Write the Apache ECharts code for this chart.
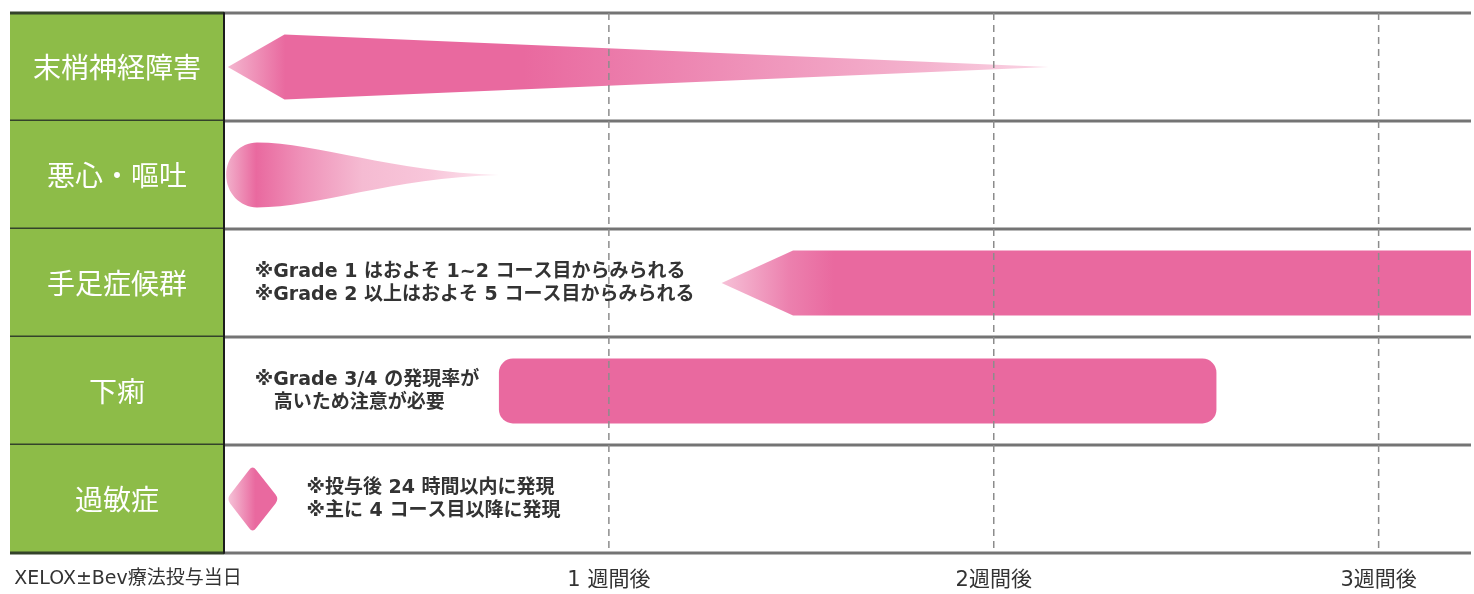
<!DOCTYPE html>
<html>
<head>
<meta charset="utf-8">
<script src="https://cdn.jsdelivr.net/npm/echarts@6/dist/echarts.min.js"></script>
<style>
  html, body { margin: 0; padding: 0; background: #fff; }
  #main { width: 1474px; height: 594px; }
</style>
</head>
<body>
<div id="main"></div>
<script>
var symptoms = ['末梢神経障害', '悪心・嘔吐', '手足症候群', '下痢', '過敏症'];
var weekTicks = [0, 7, 14, 21];
var tickLabels = ['XELOX±Bev療法投与当日', '1 週間後', '2週間後', '3週間後'];

// [行, 出現日, 最大になる日, 消える日]
var neuropathy = [0, 0.07, 1.1, 15.0];
var nausea = [1, 0.04, 0.6, 5.0];
var handFoot = [2, 9.05, 10.35, 22.68];
var diarrhea = [3, 5.0, 18.05];
var hypersens = [4, 0.05, 0.52, 1.0];

// 注釈 [行, 開始日]
var notePos = [[2, 0.56], [3, 0.56], [4, 1.5]];
var noteTexts = [
    '※Grade 1 はおよそ 1~2 コース目からみられる\n※Grade 2 以上はおよそ 5 コース目からみられる',
    '※Grade 3/4 の発現率が\n　高いため注意が必要',
    '※投与後 24 時間以内に発現\n※主に 4 コース目以降に発現'
];

var pink = '#e9699f';
var font = '"Noto Sans CJK JP", "Noto Sans CJK SC", sans-serif';
var mixFont = '"DejaVu Sans", "Noto Sans CJK JP", sans-serif';

var chart = echarts.init(document.getElementById('main'));

function grad(stops) {
    return new echarts.graphic.LinearGradient(0, 0, 1, 0, stops.map(function (s) {
        return {offset: s[0], color: s[1]};
    }));
}

function halfH(api) {
    return api.size([0, 1])[1] * 0.3;
}

// 角を丸めた多角形
function roundedPath(pts, f) {
    var n = pts.length, d = '';
    for (var i = 0; i < n; i++) {
        var p = pts[i], a = pts[(i + n - 1) % n], b = pts[(i + 1) % n];
        var s = [p[0] + (a[0] - p[0]) * f, p[1] + (a[1] - p[1]) * f];
        var e = [p[0] + (b[0] - p[0]) * f, p[1] + (b[1] - p[1]) * f];
        d += (i === 0 ? 'M' : 'L') + s[0] + ' ' + s[1] + ' Q' + p[0] + ' ' + p[1] + ' ' + e[0] + ' ' + e[1] + ' ';
    }
    return d + 'Z';
}

// 行の背景（緑の見出し・区切り線）
function renderRow(params, api) {
    var cs = params.coordSys;
    var row = api.value(1);
    var c = api.coord([0, row]);
    var h = api.size([0, 1])[1];
    var top = c[1] - h / 2, bottom = c[1] + h / 2;
    var left = 10, right = cs.x + cs.width;
    var children = [
        {type: 'rect', shape: {x: left, y: top, width: cs.x - left, height: h}, style: {fill: '#8dbc48'}},
        {type: 'text', style: {
            text: symptoms[row], x: (left + cs.x) / 2, y: c[1],
            align: 'center', verticalAlign: 'middle', fill: '#fff',
            fontSize: 28, fontFamily: font
        }},
        {type: 'line', shape: {x1: left, y1: bottom, x2: cs.x, y2: bottom}, style: {stroke: '#34432a', lineWidth: 3}},
        {type: 'line', shape: {x1: cs.x, y1: bottom, x2: right, y2: bottom}, style: {stroke: '#747474', lineWidth: 3}}
    ];
    if (row === 0) {
        children.push(
            {type: 'line', shape: {x1: left, y1: top, x2: cs.x, y2: top}, style: {stroke: '#34432a', lineWidth: 3}},
            {type: 'line', shape: {x1: cs.x, y1: top, x2: right, y2: top}, style: {stroke: '#747474', lineWidth: 3}}
        );
    }
    return {type: 'group', children: children};
}

// 週の破線
function renderWeek(params, api) {
    var cs = params.coordSys;
    var x = api.coord([api.value(0), 0])[0];
    if (api.value(0) === 0) return null;
    return {
        type: 'line',
        shape: {x1: x, y1: cs.y, x2: x, y2: cs.y + cs.height},
        style: {stroke: '#8c8c8c', lineWidth: 1.5, lineDash: [7, 5]}
    };
}

function renderTaper(params, api) {
    var row = api.value(0);
    var p0 = api.coord([api.value(1), row]);
    var p1 = api.coord([api.value(2), row]);
    var p2 = api.coord([api.value(3), row]);
    var hh = halfH(api);
    return {
        type: 'polygon',
        shape: {points: [[p0[0], p0[1]], [p1[0], p1[1] - hh], [p2[0], p2[1]], [p1[0], p1[1] + hh]]},
        style: {fill: grad([[0, '#f4b6cf'], [0.07, pink], [0.36, pink], [0.6, '#ee8db6'], [0.85, '#f4b3ce'], [1, '#fad6e5']])}
    };
}

function renderDrop(params, api) {
    var row = api.value(0);
    var p0 = api.coord([api.value(1), row]);
    var pc = api.coord([api.value(2), row]);
    var pe = api.coord([api.value(3), row]);
    var ry = halfH(api), rx = pc[0] - p0[0], k = 0.5523;
    var x0 = p0[0], xc = pc[0], xe = pe[0], cy = p0[1];
    var d = 'M' + xe + ' ' + cy +
        ' C' + (xc + (xe - xc) * 0.55) + ' ' + (cy - 3) + ' ' + (xc + (xe - xc) * 0.25) + ' ' + (cy - ry) + ' ' + xc + ' ' + (cy - ry) +
        ' C' + (xc - rx * k) + ' ' + (cy - ry) + ' ' + x0 + ' ' + (cy - ry * k) + ' ' + x0 + ' ' + cy +
        ' C' + x0 + ' ' + (cy + ry * k) + ' ' + (xc - rx * k) + ' ' + (cy + ry) + ' ' + xc + ' ' + (cy + ry) +
        ' C' + (xc + (xe - xc) * 0.25) + ' ' + (cy + ry) + ' ' + (xc + (xe - xc) * 0.55) + ' ' + (cy + 3) + ' ' + xe + ' ' + cy + ' Z';
    return {
        type: 'path',
        shape: {pathData: d},
        style: {fill: grad([[0, '#f2b0cb'], [0.11, pink], [0.28, '#ef92b9'], [0.5, '#f5bbd2'], [0.75, '#f8c6da'], [1, '#fde9f1']])}
    };
}

function renderArrow(params, api) {
    var row = api.value(0);
    var p0 = api.coord([api.value(1), row]);
    var p1 = api.coord([api.value(2), row]);
    var p2 = api.coord([api.value(3), row]);
    var hh = halfH(api);
    return {
        type: 'polygon',
        shape: {points: [[p0[0], p0[1]], [p1[0], p1[1] - hh], [p2[0], p2[1] - hh], [p2[0], p2[1] + hh], [p1[0], p1[1] + hh]]},
        style: {fill: grad([[0, '#f6c1d7'], [0.09, '#ec80ae'], [0.15, pink], [1, pink]])}
    };
}

function renderBar(params, api) {
    var row = api.value(0);
    var p0 = api.coord([api.value(1), row]);
    var p1 = api.coord([api.value(2), row]);
    var hh = halfH(api);
    return {
        type: 'rect',
        shape: {x: p0[0], y: p0[1] - hh, width: p1[0] - p0[0], height: hh * 2, r: 14},
        style: {fill: pink}
    };
}

function renderDiamond(params, api) {
    var row = api.value(0);
    var p0 = api.coord([api.value(1), row]);
    var pm = api.coord([api.value(2), row]);
    var p2 = api.coord([api.value(3), row]);
    var hh = halfH(api) * 1.04;
    var pts = [[p0[0], p0[1]], [pm[0], pm[1] - hh], [p2[0], p2[1]], [pm[0], pm[1] + hh]];
    return {
        type: 'path',
        shape: {pathData: roundedPath(pts, 0.13)},
        style: {fill: grad([[0, '#f5c2d7'], [0.55, pink], [1, pink]])}
    };
}

function renderNote(params, api) {
    var p = api.coord([api.value(1), api.value(0)]);
    return {
        type: 'text',
        style: {
            text: noteTexts[params.dataIndex], x: p[0], y: p[1] + 1,
            align: 'left', verticalAlign: 'middle', fill: '#333',
            fontSize: 19, lineHeight: 23, fontWeight: 'bold', fontFamily: mixFont
        }
    };
}

var option = {
    backgroundColor: '#fff',
    animation: false,
    grid: {left: 224, right: 0, top: 13, bottom: 41},
    xAxis: {
        type: 'value',
        min: 0,
        max: 22.68,
        interval: 7,
        axisLine: {show: false},
        axisTick: {show: false},
        splitLine: {show: false},
        axisLabel: {
            margin: 17,
            fontSize: 21,
            color: '#333',
            fontFamily: mixFont,
            hideOverlap: false,
            formatter: function (v) {
                var i = weekTicks.indexOf(v);
                if (i < 0) return '';
                return i === 0 ? '{first|' + tickLabels[0] + '}' : tickLabels[i];
            },
            rich: {
                first: {padding: [0, 192, 0, 0], fontSize: 19, color: '#333', fontFamily: mixFont}
            }
        }
    },
    yAxis: {
        type: 'category',
        inverse: true,
        data: symptoms,
        z: 4,
        axisLine: {show: true, lineStyle: {color: '#1c1c1c', width: 2}},
        axisTick: {show: false},
        axisLabel: {show: false},
        splitLine: {show: false}
    },
    series: [
        {type: 'custom', name: 'rows', z: 1, renderItem: renderRow, encode: {x: 0, y: 1},
            data: symptoms.map(function (s, i) { return [0, i]; })},
        {type: 'custom', name: symptoms[0], z: 2, renderItem: renderTaper, encode: {x: [1, 2, 3], y: 0}, data: [neuropathy]},
        {type: 'custom', name: symptoms[1], z: 2, renderItem: renderDrop, encode: {x: [1, 2, 3], y: 0}, data: [nausea]},
        {type: 'custom', name: symptoms[2], z: 2, renderItem: renderArrow, encode: {x: [1, 2, 3], y: 0}, data: [handFoot]},
        {type: 'custom', name: symptoms[3], z: 2, renderItem: renderBar, encode: {x: [1, 2], y: 0}, data: [diarrhea]},
        {type: 'custom', name: symptoms[4], z: 2, renderItem: renderDiamond, encode: {x: [1, 2, 3], y: 0}, data: [hypersens]},
        {type: 'custom', name: 'weeks', z: 3, renderItem: renderWeek, encode: {x: 0},
            data: weekTicks.map(function (d) { return [d]; })},
        {type: 'custom', name: 'notes', z: 5, renderItem: renderNote, encode: {x: 1, y: 0}, data: notePos}
    ]
};

chart.setOption(option);
</script>
</body>
</html>
